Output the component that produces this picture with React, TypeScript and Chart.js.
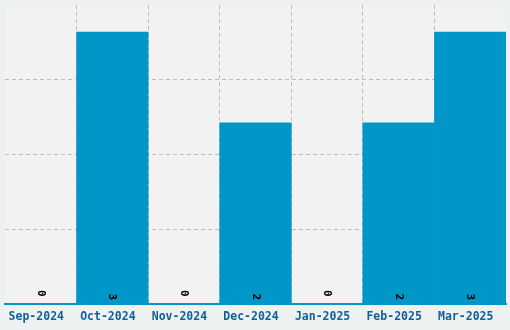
import React, { useEffect, useRef } from "react";
import { Chart, registerables } from "chart.js";

Chart.register(...registerables);

const categories = ["Sep-2024", "Oct-2024", "Nov-2024", "Dec-2024", "Jan-2025", "Feb-2025", "Mar-2025"];
const values = [0, 3, 0, 2, 0, 2, 3];
const yMax = 3.3;
const yTicks = [0, 0.825, 1.65, 2.475, 3.3];

const bgPlugin = {
  id: "plotBg",
  beforeDraw(chart: any) {
    const { ctx, chartArea } = chart;
    ctx.save();
    ctx.fillStyle = "#f2f2f2";
    ctx.fillRect(chartArea.left, chartArea.top, chartArea.right - chartArea.left, chartArea.bottom - chartArea.top);
    ctx.restore();
  },
};

const valueLabelPlugin = {
  id: "valueLabels",
  afterDatasetsDraw(chart: any) {
    const { ctx } = chart;
    const meta = chart.getDatasetMeta(0);
    const base = chart.scales.y.getPixelForValue(0);
    ctx.save();
    ctx.fillStyle = "#000000";
    ctx.font = "bold 11px 'DejaVu Sans Mono'";
    ctx.textAlign = "center";
    ctx.textBaseline = "middle";
    meta.data.forEach((bar: any, i: number) => {
      ctx.save();
      ctx.translate(bar.x, base - (values[i] === 0 ? 11 : 7.5));
      ctx.rotate(Math.PI / 2);
      ctx.fillText(String(values[i]), 0, 0);
      ctx.restore();
    });
    ctx.restore();
  },
};

export default function App() {
  const ref = useRef<HTMLCanvasElement | null>(null);
  useEffect(() => {
    document.body.style.margin = "0";
    document.body.style.background = "#eef1f2";
    const chart = new Chart(ref.current as HTMLCanvasElement, {
      type: "bar",
      data: {
        labels: categories,
        datasets: [
          {
            data: values,
            backgroundColor: "#0097c8",
            borderWidth: 0,
            barPercentage: 1,
            categoryPercentage: 1,
          },
        ],
      },
      options: {
        animation: false,
        responsive: false,
        maintainAspectRatio: false,
        layout: { padding: { left: 5, top: 5, right: 4, bottom: 0 } },
        plugins: { legend: { display: false }, tooltip: { enabled: false } },
        scales: {
          x: {
            z: 1,
            grid: {
              offset: true,
              color: (c: any) => (!c.tick || c.index === 0 ? "rgba(0,0,0,0)" : "rgba(0,0,0,0.22)"),
              drawTicks: false,
            },
            border: { display: true, color: "#0097c8", width: 2, dash: [4, 3] },
            ticks: {
              color: "#0f6199",
              font: { family: "'DejaVu Sans Mono'", size: 11.5, weight: "bold" },
              padding: 6,
              labelOffset: -4.5,
              maxRotation: 0,
              autoSkip: false,
            },
          },
          y: {
            z: 1,
            min: 0,
            max: yMax,
            afterBuildTicks: (scale: any) => {
              scale.ticks = yTicks.map((v) => ({ value: v }));
            },
            grid: {
              color: (c: any) =>
                !c.tick || c.tick.value === 0 || c.tick.value === yMax ? "rgba(0,0,0,0)" : "rgba(0,0,0,0.22)",
              drawTicks: false,
            },
            border: { display: false, dash: [4, 3] },
            ticks: { display: false },
          },
        },
      },
      plugins: [bgPlugin, valueLabelPlugin],
    } as any);
    return () => chart.destroy();
  }, []);
  return <canvas ref={ref} width={510} height={330} style={{ display: "block" }} />;
}
